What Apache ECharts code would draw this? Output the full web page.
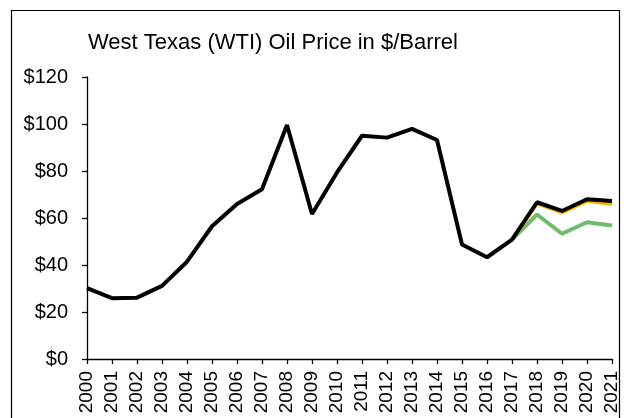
<!DOCTYPE html>
<html>
<head>
<meta charset="utf-8">
<script src="https://cdn.jsdelivr.net/npm/echarts@6/dist/echarts.min.js"></script>
<style>
  html, body { margin: 0; padding: 0; background: #fff; }
  #chart { width: 624px; height: 418px; }
</style>
</head>
<body>
<div id="chart"></div>
<script>
// years on the x axis
const years = ['2000','2001','2002','2003','2004','2005','2006','2007','2008','2009','2010',
  '2011','2012','2013','2014','2015','2016','2017','2018','2019','2020','2021']

// main price line (black)
const wtiPrice = [30.2, 25.9, 26.1, 31.1, 41.4, 56.5, 66.0, 72.2, 99.6, 61.7, 79.4,
  95.0, 94.2, 97.9, 93.2, 48.7, 43.3, 50.8, 66.7, 63.0, 68.0, 67.2]

// forecast lines, starting at 2017
const forecastOrange = [null, null, null, null, null, null, null, null, null, null, null,
  null, null, null, null, null, null, 50.8, 66.2, 62.4, 67.3, 66.0]
const forecastGreen = [null, null, null, null, null, null, null, null, null, null, null,
  null, null, null, null, null, null, 50.8, 61.5, 53.3, 58.2, 56.8]

const chart = echarts.init(document.getElementById('chart'))

const axisFont = 'Liberation Sans, Arial, sans-serif'

chart.setOption({
  animation: false,
  title: {
    text: 'West Texas (WTI) Oil Price in $/Barrel',
    left: 83,
    top: 27,
    textStyle: { color: '#000', fontSize: 22, fontWeight: 'normal', fontFamily: axisFont }
  },
  graphic: [{
    type: 'rect',
    shape: { x: 11.5, y: 10.5, width: 608, height: 440 },
    style: { fill: 'none', stroke: '#000', lineWidth: 1.2 },
    silent: true
  }],
  grid: { left: 87, right: 12, top: 77, bottom: 59, containLabel: false },
  xAxis: {
    type: 'category',
    data: years,
    boundaryGap: false,
    axisLine: { lineStyle: { color: '#000', width: 1.3 } },
    axisTick: { show: true, length: 5, alignWithLabel: true, lineStyle: { color: '#000', width: 1.3 } },
    axisLabel: { rotate: 90, interval: 0, margin: 12, color: '#000', fontSize: 19, fontFamily: axisFont },
    splitLine: { show: false }
  },
  yAxis: {
    type: 'value',
    min: 0,
    max: 120,
    interval: 20,
    axisLine: { show: true, lineStyle: { color: '#000', width: 1.3 } },
    axisTick: { show: true, length: 5, lineStyle: { color: '#000', width: 1.3 } },
    axisLabel: { margin: 19, color: '#000', fontSize: 20, fontFamily: axisFont, formatter: v => '$' + v },
    splitLine: { show: false }
  },
  series: [
    {
      name: 'Green', type: 'line', data: forecastGreen, symbol: 'none',
      lineStyle: { color: '#6dbd6a', width: 4 }, z: 2
    },
    {
      name: 'Orange', type: 'line', data: forecastOrange, symbol: 'none',
      lineStyle: { color: '#f5b800', width: 4 }, z: 3
    },
    {
      name: 'WTI', type: 'line', data: wtiPrice, symbol: 'none',
      lineStyle: { color: '#000', width: 4 }, z: 4
    }
  ]
})
</script>
</body>
</html>
